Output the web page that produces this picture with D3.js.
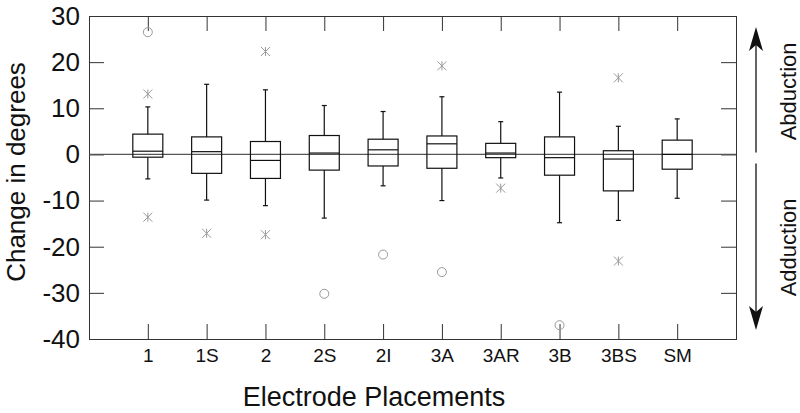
<!DOCTYPE html>
<html>
    <head>
        <meta charset="utf-8" />
        <title>Change in degrees by electrode placement</title>
        <script src="https://d3js.org/d3.v7.min.js"></script>
        <style>
            body { margin: 0; background: white; }
            text { font-family: "Liberation Sans", Arial, sans-serif; fill: #111; }
        </style>
    </head>
    <body>
        <svg width="800" height="413" id="chart"></svg>

        <script>
            // categories and box statistics (degrees)
            var categories = ["1", "1S", "2", "2S", "2I", "3A", "3AR", "3B", "3BS", "SM"];
            var whiskerLow  = [-5.3, -9.9, -11.1, -13.8, -6.8, -10.0, -5.1, -14.8, -14.3, -9.5];
            var q1          = [-0.6, -4.1, -5.2, -3.4, -2.5, -3.0, -0.7, -4.5, -7.9, -3.2];
            var medians     = [0.7, 0.6, -1.3, 0.3, 1.0, 2.3, 0.3, -0.7, -1.0, 0.0];
            var q3          = [4.4, 3.8, 2.8, 4.1, 3.3, 4.0, 2.4, 3.8, 0.8, 3.1];
            var whiskerHigh = [10.3, 15.2, 14.0, 10.6, 9.3, 12.5, 7.1, 13.5, 6.1, 7.7];

            // outliers (asterisk) and extreme values (circle)
            var starCats   = ["1", "1", "1S", "2", "2", "3A", "3AR", "3BS", "3BS"];
            var starValues = [13.1, -13.6, -17.1, 22.3, -17.4, 19.2, -7.3, 16.6, -23.1];
            var circleCats   = ["1", "2S", "2I", "3A", "3B"];
            var circleValues = [26.5, -30.2, -21.7, -25.5, -37.0];

            var yTicks = [-40, -30, -20, -10, 0, 10, 20, 30];

            var svg = d3.select("#chart");
            // note: "top" is taken by window.top, so use plot* names
            var plotL = 89, plotR = 736, plotT = 16, plotB = 339;

            var x = d3.scalePoint().domain(categories).range([plotL, plotR]).padding(1);
            var y = d3.scaleLinear().domain([-40, 30]).range([plotB, plotT]);

            var boxes = categories.map(function(c, i) {
                return { cat: c, lo: whiskerLow[i], q1: q1[i], med: medians[i], q3: q3[i], hi: whiskerHigh[i] };
            });

            // axes, ticks pointing inward
            svg.append("g")
                .attr("transform", "translate(" + plotL + ",0)")
                .call(d3.axisLeft(y).tickValues(yTicks).tickSize(-15).tickSizeOuter(0).tickPadding(9)
                    .tickFormat(function(d) { return String(d); }))   // plain hyphen, not unicode minus
                .call(function(g) {
                    g.select(".domain").remove();
                    g.selectAll("line").attr("stroke", "#333");
                    g.selectAll("text").style("font-size", "26px").attr("fill", "#111");
                });

            svg.append("g")
                .attr("transform", "translate(" + plotR + ",0)")
                .call(d3.axisRight(y).tickValues(yTicks).tickSize(-15).tickSizeOuter(0).tickFormat(""))
                .call(function(g) {
                    g.select(".domain").remove();
                    g.selectAll("line").attr("stroke", "#333");
                });

            svg.append("g")
                .attr("transform", "translate(0," + plotB + ")")
                .call(d3.axisBottom(x).tickSize(-15).tickSizeOuter(0).tickPadding(10))
                .call(function(g) {
                    g.select(".domain").remove();
                    g.selectAll("line").attr("stroke", "#333");
                    g.selectAll("text").style("font-size", "19px").attr("fill", "#111");
                });

            svg.append("g")
                .attr("transform", "translate(0," + plotT + ")")
                .call(d3.axisTop(x).tickSize(-15).tickSizeOuter(0).tickFormat(""))
                .call(function(g) {
                    g.select(".domain").remove();
                    g.selectAll("line").attr("stroke", "#333");
                });

            // plot frame
            svg.append("rect")
                .attr("x", plotL + 0.5).attr("y", plotT + 0.5)
                .attr("width", plotR - plotL).attr("height", plotB - plotT)
                .attr("fill", "none")
                .attr("stroke", "#333");

            // zero line
            svg.append("line")
                .attr("x1", plotL).attr("x2", plotR)
                .attr("y1", y(0)).attr("y2", y(0))
                .attr("stroke", "#555")
                .attr("stroke-width", 1.2);

            // box plots
            var bw = 30, cap = 5;
            var g = svg.append("g").attr("stroke", "#111").attr("fill", "none").attr("stroke-width", 1.2);
            var b = g.selectAll(".box").data(boxes).enter().append("g").attr("class", "box");

            b.append("line")
                .attr("x1", function(d) { return x(d.cat); })
                .attr("x2", function(d) { return x(d.cat); })
                .attr("y1", function(d) { return y(d.hi); })
                .attr("y2", function(d) { return y(d.q3); });
            b.append("line")
                .attr("x1", function(d) { return x(d.cat); })
                .attr("x2", function(d) { return x(d.cat); })
                .attr("y1", function(d) { return y(d.q1); })
                .attr("y2", function(d) { return y(d.lo); });
            b.append("line")
                .attr("x1", function(d) { return x(d.cat) - cap / 2; })
                .attr("x2", function(d) { return x(d.cat) + cap / 2; })
                .attr("y1", function(d) { return y(d.hi); })
                .attr("y2", function(d) { return y(d.hi); });
            b.append("line")
                .attr("x1", function(d) { return x(d.cat) - cap / 2; })
                .attr("x2", function(d) { return x(d.cat) + cap / 2; })
                .attr("y1", function(d) { return y(d.lo); })
                .attr("y2", function(d) { return y(d.lo); });
            b.append("rect")
                .attr("x", function(d) { return x(d.cat) - bw / 2; })
                .attr("y", function(d) { return y(d.q3); })
                .attr("width", bw)
                .attr("height", function(d) { return y(d.q1) - y(d.q3); });
            b.append("line")
                .attr("x1", function(d) { return x(d.cat) - bw / 2; })
                .attr("x2", function(d) { return x(d.cat) + bw / 2; })
                .attr("y1", function(d) { return y(d.med); })
                .attr("y2", function(d) { return y(d.med); });

            // asterisks
            var s = 4.5;
            svg.selectAll(".star")
                .data(starValues)
                .enter().append("path")
                .attr("class", "star")
                .attr("d", "M" + (-s) + "," + (-s) + "L" + s + "," + s +
                           "M" + (-s) + "," + s + "L" + s + "," + (-s) +
                           "M0," + (-s) + "L0," + s)
                .attr("transform", function(d, i) {
                    return "translate(" + x(starCats[i]) + "," + y(d) + ")";
                })
                .attr("stroke", "#999")
                .attr("fill", "none");

            // circles
            svg.selectAll(".ext")
                .data(circleValues)
                .enter().append("circle")
                .attr("class", "ext")
                .attr("cx", function(d, i) { return x(circleCats[i]); })
                .attr("cy", function(d) { return y(d); })
                .attr("r", 4.5)
                .attr("stroke", "#999")
                .attr("fill", "none");

            // direction arrows on the right
            var ax = 756;
            var upTip = y(30) + 11, downTip = y(-40) - 9;
            svg.append("line")
                .attr("x1", ax).attr("x2", ax)
                .attr("y1", y(0) - 2).attr("y2", upTip + 15)
                .attr("stroke", "#111").attr("stroke-width", 1.3);
            svg.append("line")
                .attr("x1", ax).attr("x2", ax)
                .attr("y1", y(0) + 9).attr("y2", downTip - 15)
                .attr("stroke", "#111").attr("stroke-width", 1.3);
            svg.append("path")
                .attr("d", "M" + ax + "," + upTip + "L" + (ax + 7) + "," + (upTip + 24) +
                           "L" + ax + "," + (upTip + 18) + "L" + (ax - 7) + "," + (upTip + 24) + "Z")
                .attr("fill", "#111");
            svg.append("path")
                .attr("d", "M" + ax + "," + downTip + "L" + (ax + 7) + "," + (downTip - 24) +
                           "L" + ax + "," + (downTip - 18) + "L" + (ax - 7) + "," + (downTip - 24) + "Z")
                .attr("fill", "#111");

            svg.append("text")
                .attr("transform", "translate(788," + (y(0) - 63) + ") rotate(-90)")
                .attr("text-anchor", "middle")
                .attr("dominant-baseline", "central")
                .style("font-size", "22px")
                .text("Abduction");
            svg.append("text")
                .attr("transform", "translate(788," + (y(0) + 93) + ") rotate(-90)")
                .attr("text-anchor", "middle")
                .attr("dominant-baseline", "central")
                .style("font-size", "22px")
                .text("Adduction");

            // axis titles
            svg.append("text")
                .attr("transform", "translate(16,172) rotate(-90)")
                .attr("text-anchor", "middle")
                .attr("dominant-baseline", "central")
                .style("font-size", "26px")
                .text("Change in degrees");
            svg.append("text")
                .attr("x", 374).attr("y", 406)
                .attr("text-anchor", "middle")
                .style("font-size", "27px")
                .text("Electrode Placements");
        </script>
    </body>
</html>
